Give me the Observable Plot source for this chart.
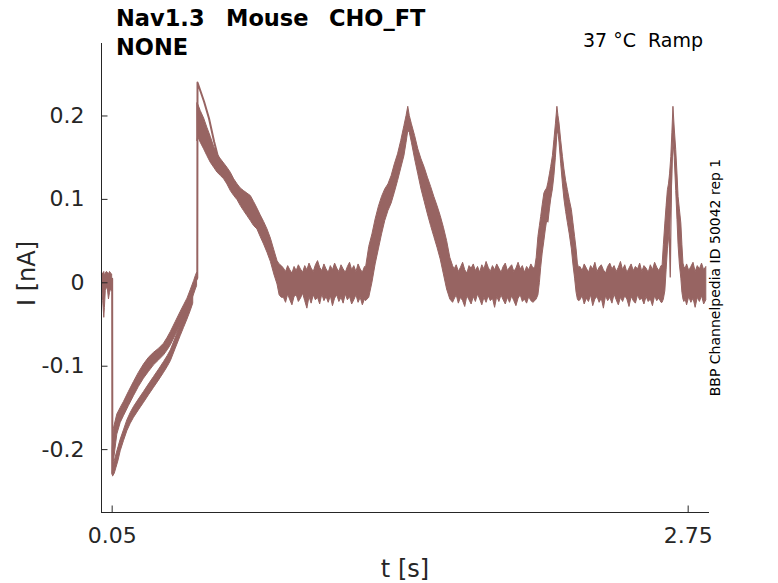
<!DOCTYPE html>
<html><head><meta charset="utf-8">
<script src="https://cdn.jsdelivr.net/npm/d3@7"></script>
<script src="https://cdn.jsdelivr.net/npm/@observablehq/plot@0.6"></script>
<style>body{margin:0;background:#fff}#chart{width:778px;height:583px}</style>
</head><body><div id="chart"></div>
<script>
// ---------- data ----------
const xTicks = [0.05, 2.75];
const xTickLabels = ["0.05", "2.75"];
const yTicks = [-0.2, -0.1, 0, 0.1, 0.2];
const yTickLabels = ["-0.2", "-0.1", "0", "0.1", "0.2"];

// initial holding baseline (envelope of the repetitions)
const initT  = [0.003, 0.008, 0.013, 0.016, 0.020, 0.025, 0.030, 0.035, 0.040, 0.045, 0.050];
const initHi = [0.012, 0.010, 0.013, 0.008, 0.011, 0.013, 0.012, 0.010, 0.013, 0.011, 0.010];
const initLo = [-0.006, -0.022, -0.042, -0.030, -0.010, -0.006, -0.008, -0.020, -0.012, -0.008, -0.010];

// sharp drop at ramp onset
const dropT = [0.050, 0.051];
const dropV = [0.005, -0.228];

// ramp: upper branch
const upT  = [0.052, 0.058, 0.074, 0.090, 0.105, 0.128, 0.152, 0.175, 0.199, 0.222, 0.246, 0.270, 0.293, 0.310, 0.325, 0.348, 0.371, 0.387, 0.403, 0.418, 0.434, 0.442, 0.448];
const upHi = [-0.200, -0.175, -0.158, -0.150, -0.143, -0.131, -0.119, -0.108, -0.098, -0.090, -0.084, -0.079, -0.073, -0.066, -0.059, -0.047, -0.035, -0.027, -0.019, -0.009, 0.002, 0.008, 0.012];
const upLo = [-0.230, -0.215, -0.182, -0.168, -0.160, -0.148, -0.136, -0.125, -0.115, -0.107, -0.099, -0.093, -0.087, -0.081, -0.075, -0.063, -0.051, -0.043, -0.035, -0.025, -0.014, -0.008, -0.004];

// ramp: lower branch
const lowT  = [0.055, 0.062, 0.070, 0.080, 0.090, 0.105, 0.121, 0.137, 0.152, 0.175, 0.199, 0.222, 0.246, 0.270, 0.293, 0.310, 0.325, 0.348, 0.371, 0.387, 0.403, 0.418, 0.430];
const lowHi = [-0.220, -0.214, -0.206, -0.197, -0.188, -0.177, -0.165, -0.156, -0.149, -0.140, -0.131, -0.122, -0.113, -0.104, -0.095, -0.088, -0.081, -0.066, -0.051, -0.041, -0.031, -0.021, -0.012];
const lowLo = [-0.232, -0.229, -0.222, -0.213, -0.202, -0.190, -0.178, -0.169, -0.162, -0.153, -0.144, -0.135, -0.126, -0.117, -0.108, -0.101, -0.094, -0.079, -0.064, -0.054, -0.044, -0.034, -0.025];

// outlying repetition after the jump
const topT = [0.446, 0.449, 0.450, 0.465, 0.481, 0.504, 0.528, 0.545];
const topV = [0.004, 0.006, 0.240, 0.229, 0.217, 0.197, 0.169, 0.152];

// decay after the jump
const decayT  = [0.450, 0.453, 0.465, 0.481, 0.496, 0.512, 0.528, 0.544, 0.560, 0.575, 0.590, 0.606, 0.622, 0.638, 0.653, 0.668, 0.684, 0.700, 0.715, 0.731, 0.746, 0.762, 0.778, 0.794, 0.810, 0.825, 0.835, 0.845];
const decayHi = [0.215, 0.214, 0.206, 0.197, 0.186, 0.175, 0.163, 0.154, 0.148, 0.143, 0.138, 0.132, 0.124, 0.118, 0.113, 0.110, 0.107, 0.104, 0.097, 0.089, 0.081, 0.073, 0.064, 0.053, 0.039, 0.026, 0.022, 0.020];
const decayLo = [0.170, 0.175, 0.168, 0.160, 0.152, 0.144, 0.138, 0.132, 0.128, 0.124, 0.118, 0.110, 0.104, 0.099, 0.092, 0.086, 0.080, 0.074, 0.068, 0.064, 0.055, 0.046, 0.036, 0.025, 0.010, -0.002, -0.015, -0.018];

// baseline 1
const base1T  = [0.855,0.865,0.875,0.885,0.895,0.905,0.915,0.925,0.935,0.945,0.955,0.965,0.975,0.985,0.995,1.005,1.015,1.025,1.035,1.045,1.055,1.065,1.075,1.085,1.095,1.105,1.115,1.125,1.135,1.145,1.155,1.165,1.175,1.185,1.195,1.205,1.215,1.225,1.235];
const base1Hi = [0.017,0.013,0.020,0.015,0.011,0.019,0.014,0.021,0.016,0.012,0.020,0.015,0.023,0.017,0.013,0.021,0.026,0.018,0.014,0.022,0.016,0.012,0.020,0.015,0.023,0.017,0.013,0.021,0.016,0.012,0.019,0.024,0.015,0.020,0.013,0.022,0.016,0.012,0.019];
const base1Lo = [-0.018,-0.024,-0.014,-0.021,-0.027,-0.017,-0.015,-0.023,-0.019,-0.013,-0.022,-0.031,-0.017,-0.025,-0.015,-0.021,-0.018,-0.026,-0.014,-0.022,-0.017,-0.024,-0.016,-0.028,-0.019,-0.015,-0.023,-0.018,-0.025,-0.014,-0.021,-0.017,-0.026,-0.021,-0.015,-0.024,-0.018,-0.027,-0.020];

// peak 1
const peak1T  = [1.240,1.255,1.270,1.285,1.300,1.315,1.330,1.345,1.360,1.375,1.390,1.405,1.420,1.430,1.438,1.445,1.455,1.470,1.485,1.500,1.515,1.530,1.545,1.560,1.575,1.590,1.605,1.620,1.635,1.648];
const peak1Hi = [0.018,0.043,0.058,0.076,0.091,0.103,0.112,0.118,0.128,0.142,0.154,0.170,0.188,0.200,0.211,0.200,0.190,0.176,0.160,0.148,0.138,0.126,0.115,0.103,0.092,0.080,0.066,0.050,0.030,0.020];
const peak1Lo = [-0.022,-0.018,0.000,0.022,0.040,0.058,0.074,0.086,0.095,0.108,0.122,0.137,0.152,0.168,0.182,0.180,0.168,0.148,0.130,0.112,0.097,0.082,0.068,0.055,0.042,0.028,0.010,-0.008,-0.020,-0.024];

// baseline 2
const base2T  = [1.655,1.665,1.675,1.685,1.695,1.705,1.715,1.725,1.735,1.745,1.755,1.765,1.775,1.785,1.795,1.805,1.815,1.825,1.835,1.845,1.855,1.865,1.875,1.885,1.895,1.905,1.915,1.925,1.935,1.945,1.955,1.965,1.975,1.985,1.995,2.005,2.015,2.025];
const base2Hi = [0.016,0.021,0.013,0.018,0.024,0.015,0.011,0.020,0.017,0.022,0.014,0.019,0.012,0.021,0.016,0.025,0.018,0.013,0.020,0.015,0.022,0.017,0.012,0.019,0.023,0.014,0.018,0.021,0.013,0.017,0.024,0.016,0.020,0.012,0.019,0.015,0.022,0.017];
const base2Lo = [-0.020,-0.015,-0.025,-0.018,-0.022,-0.029,-0.016,-0.021,-0.026,-0.017,-0.023,-0.014,-0.020,-0.027,-0.018,-0.024,-0.016,-0.022,-0.019,-0.030,-0.017,-0.023,-0.015,-0.021,-0.026,-0.018,-0.024,-0.016,-0.022,-0.028,-0.019,-0.015,-0.023,-0.020,-0.025,-0.017,-0.022,-0.024];

// peak 2
const peak2T  = [2.033,2.040,2.048,2.055,2.061,2.068,2.076,2.083,2.089,2.095,2.102,2.108,2.116,2.123,2.130,2.137,2.142,2.147,2.155,2.163,2.170,2.178,2.186,2.195,2.205,2.212,2.220,2.227,2.233,2.238];
const peak2Hi = [0.018,0.030,0.055,0.068,0.079,0.093,0.107,0.111,0.113,0.120,0.130,0.139,0.152,0.171,0.190,0.211,0.200,0.191,0.170,0.151,0.136,0.122,0.111,0.099,0.087,0.072,0.055,0.040,0.023,0.018];
const peak2Lo = [-0.022,-0.020,-0.015,0.000,0.018,0.035,0.050,0.064,0.074,0.072,0.088,0.100,0.112,0.128,0.150,0.178,0.180,0.168,0.142,0.118,0.100,0.085,0.072,0.058,0.040,0.022,0.005,-0.012,-0.020,-0.022];

// baseline 3
const base3T  = [2.245,2.255,2.265,2.275,2.285,2.295,2.305,2.315,2.325,2.335,2.345,2.355,2.365,2.375,2.385,2.395,2.405,2.415,2.425,2.435,2.445,2.455,2.465,2.475,2.485,2.495,2.505,2.515,2.525,2.535,2.545,2.555,2.565,2.575,2.585,2.595,2.605,2.615,2.625];
const base3Hi = [0.019,0.014,0.022,0.017,0.012,0.020,0.016,0.024,0.013,0.018,0.021,0.015,0.011,0.019,0.023,0.016,0.020,0.013,0.018,0.025,0.015,0.021,0.012,0.017,0.022,0.014,0.019,0.016,0.023,0.013,0.020,0.017,0.012,0.021,0.015,0.024,0.018,0.014,0.020];
const base3Lo = [-0.021,-0.016,-0.026,-0.019,-0.023,-0.015,-0.028,-0.020,-0.017,-0.024,-0.019,-0.031,-0.016,-0.022,-0.018,-0.025,-0.014,-0.021,-0.027,-0.018,-0.023,-0.016,-0.020,-0.029,-0.017,-0.022,-0.025,-0.015,-0.021,-0.019,-0.026,-0.017,-0.023,-0.020,-0.028,-0.016,-0.022,-0.019,-0.024];

// peak 3
const peak3T  = [2.630,2.636,2.643,2.649,2.655,2.660,2.665,2.671,2.676,2.681,2.687,2.694,2.700,2.705,2.711,2.718,2.723,2.728,2.732];
const peak3Hi = [0.020,0.045,0.071,0.092,0.111,0.118,0.130,0.151,0.180,0.211,0.185,0.159,0.130,0.103,0.088,0.071,0.045,0.023,0.019];
const peak3Lo = [-0.024,-0.020,-0.010,0.015,0.040,0.052,0.065,0.090,0.130,0.170,0.150,0.110,0.075,0.045,0.022,0.005,-0.012,-0.020,-0.023];

// one repetition lagging on peak 3
const notchT = [2.650, 2.657, 2.666, 2.673];
const notchV = [0.090, 0.110, 0.007, 0.150];

// baseline 4
const base4T  = [2.738,2.745,2.755,2.765,2.775,2.785,2.795,2.805,2.815,2.825,2.835];
const base4Hi = [0.017,0.022,0.014,0.019,0.024,0.013,0.020,0.016,0.023,0.015,0.019];
const base4Lo = [-0.020,-0.027,-0.017,-0.024,-0.019,-0.030,-0.018,-0.023,-0.016,-0.026,-0.021];

// ---------- assembly ----------
const rows = (t, lo, hi) => t.slice(0, Math.min(t.length, lo.length, hi.length)).map((x, i) => ({t: x, lo: lo[i], hi: hi[i]}));
const pts = (t, v) => t.map((x, i) => ({t: x, v: v[i]}));
const envT  = [...decayT, ...base1T, ...peak1T, ...base2T, ...peak2T, ...base3T, ...peak3T, ...base4T];
const envLo = [...decayLo, ...base1Lo, ...peak1Lo, ...base2Lo, ...peak2Lo, ...base3Lo, ...peak3Lo, ...base4Lo];
const envHi = [...decayHi, ...base1Hi, ...peak1Hi, ...base2Hi, ...peak2Hi, ...base3Hi, ...peak3Hi, ...base4Hi];

const C = "#976462";
const AX = "#262626";
const W = 778, H = 583, ML = 101, MR = 69, MT = 43, MB = 71;
const innerW = W - ML - MR, innerH = H - MT - MB;
const xDomain = [0, 2.85];
const yDomain = [-0.2754, 0.2869];
const band = {x: "t", y1: "lo", y2: "hi", fill: C, stroke: C, strokeWidth: 1, strokeLinejoin: "round"};

const plot = Plot.plot({
  width: W, height: H,
  marginLeft: ML, marginRight: MR, marginTop: MT, marginBottom: MB,
  x: {domain: xDomain},
  y: {domain: yDomain},
  style: {fontFamily: "'DejaVu Sans', sans-serif", background: "#fff", color: AX, overflow: "visible"},
  marks: [
    Plot.areaY(rows(initT, initLo, initHi), band),
    Plot.line(pts(dropT, dropV), {x: "t", y: "v", stroke: C, strokeWidth: 2}),
    Plot.areaY(rows(upT, upLo, upHi), band),
    Plot.areaY(rows(lowT, lowLo, lowHi), band),
    Plot.areaY(rows(envT, envLo, envHi), band),
    Plot.line(pts(topT, topV), {x: "t", y: "v", stroke: C, strokeWidth: 2}),
    Plot.line(pts(notchT, notchV), {x: "t", y: "v", stroke: C, strokeWidth: 1.3}),
    Plot.ruleX([xDomain[0]], {stroke: AX, strokeWidth: 1}),
    Plot.ruleY([yDomain[0]], {stroke: AX, strokeWidth: 1}),
    Plot.tickY(yTicks, {y: d => d, stroke: AX, insetRight: innerW - 6.5}),
    Plot.tickX(xTicks, {x: d => d, stroke: AX, insetTop: innerH - 6.5}),
    Plot.axisY({ticks: yTicks, tickSize: 0, tickPadding: 17, fontSize: 22, label: null,
      tickFormat: d => yTickLabels[yTicks.indexOf(d)]}),
    Plot.axisX({ticks: xTicks, tickSize: 0, tickPadding: 15, fontSize: 22, label: null,
      tickFormat: d => xTickLabels[xTicks.indexOf(d)]})
  ]
});

document.getElementById("chart").appendChild(plot);
const svg = d3.select(plot);
const FF = "'DejaVu Sans', sans-serif";

// title
const t1 = svg.append("text").attr("y", 26).attr("text-anchor", "start").style("font-family", FF)
  .style("font-size", "22.5px").style("font-weight", "bold").attr("fill", "#000");
t1.append("tspan").attr("x", 116).text("Nav1.3");
t1.append("tspan").attr("x", 226).text("Mouse");
t1.append("tspan").attr("x", 329).text("CHO_FT");
svg.append("text").attr("x", 116).attr("y", 55).attr("text-anchor", "start").style("font-family", FF)
  .style("font-size", "22.5px").style("font-weight", "bold").attr("fill", "#000").text("NONE");

// subtitle right
svg.append("text").attr("x", 703).attr("y", 47).attr("text-anchor", "end")
  .style("font-family", FF).style("font-size", "19px").style("white-space", "pre")
  .attr("fill", "#000").text("37 °C  Ramp");

// side note
svg.append("text").attr("transform", "translate(720,277.5) rotate(-90)").attr("text-anchor", "middle")
  .style("font-family", FF).style("font-size", "14px").attr("fill", "#000")
  .text("BBP Channelpedia ID 50042 rep 1");

// axis labels
svg.append("text").attr("transform", "translate(35,273.5) rotate(-90)").attr("text-anchor", "middle")
  .style("font-family", FF).style("font-size", "24px").attr("fill", AX).text("I [nA]");
svg.append("text").attr("x", 405).attr("y", 577).attr("text-anchor", "middle")
  .style("font-family", FF).style("font-size", "24px").attr("fill", AX).text("t [s]");
</script>
</body></html>
